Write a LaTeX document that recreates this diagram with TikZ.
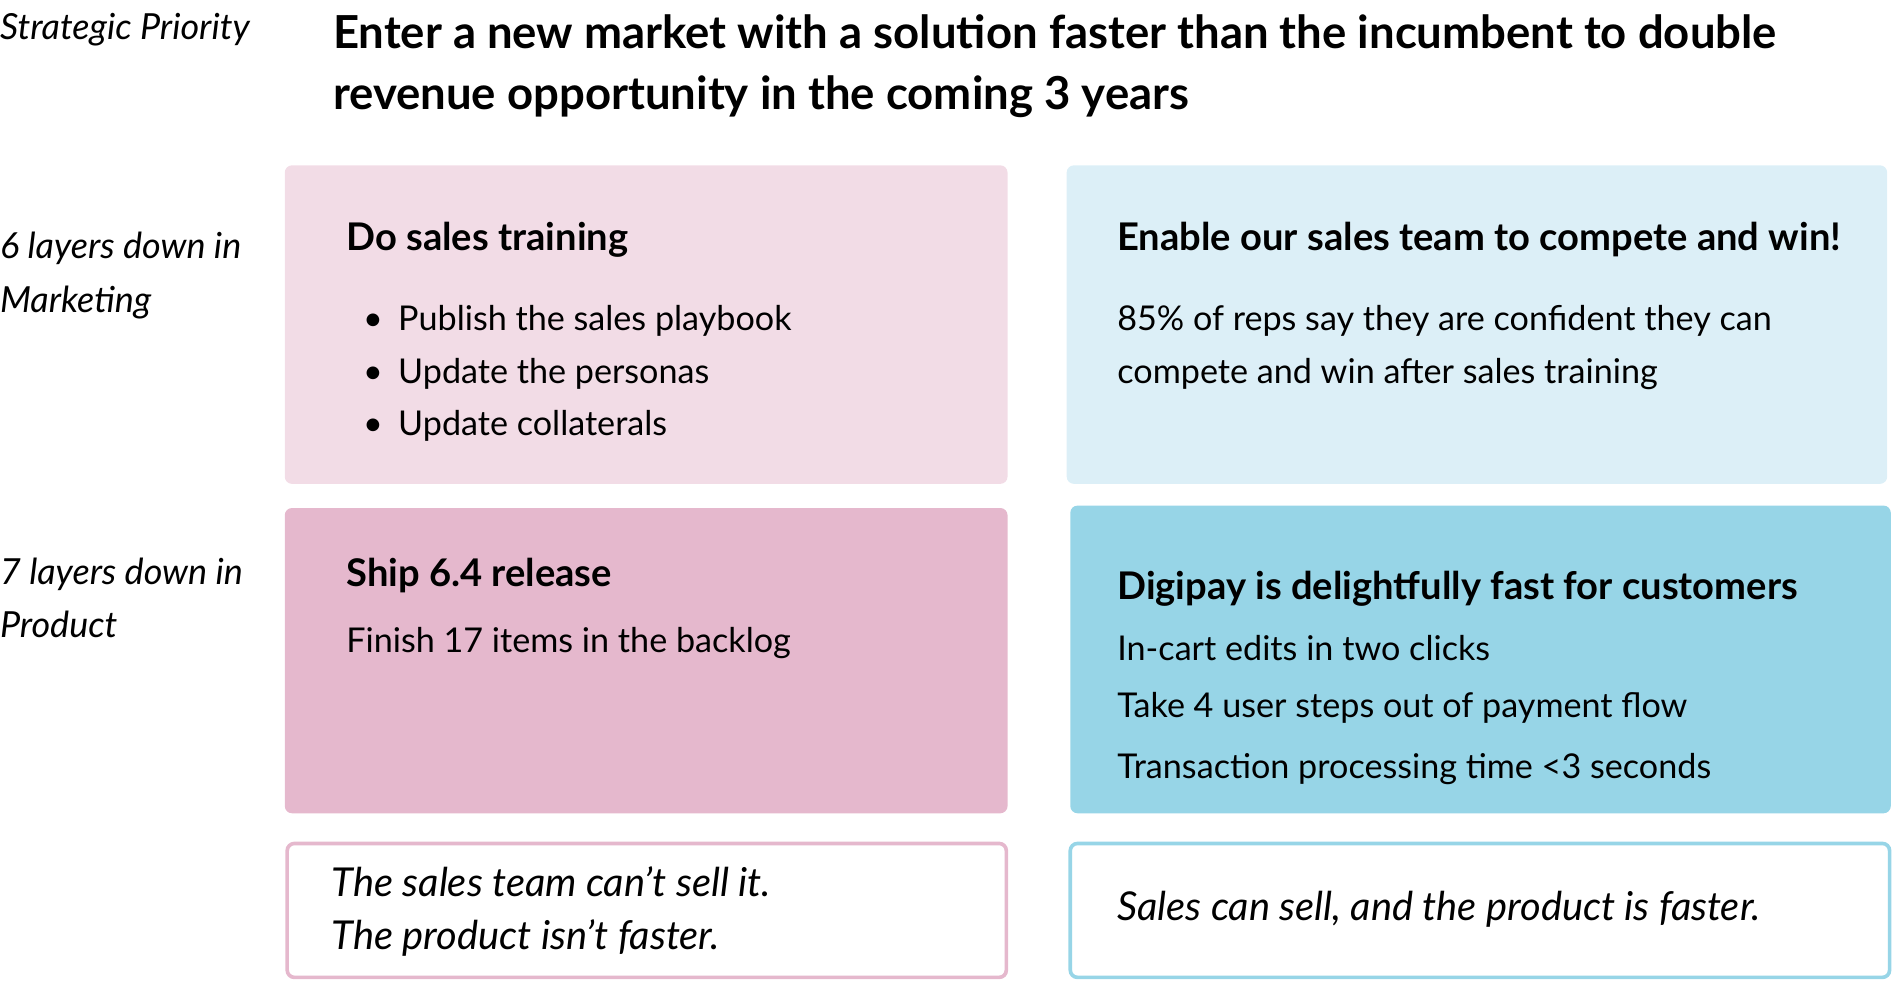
\documentclass[tikz,border=0pt]{standalone}
\usepackage{fontspec}
\setmainfont{Lato}
\definecolor{pinkL}{HTML}{F2DCE6}
\definecolor{pinkD}{HTML}{E5B8CD}
\definecolor{blueL}{HTML}{DCEFF7}
\definecolor{blueD}{HTML}{97D5E7}
\tikzset{
  box/.style={rounded corners=3pt},
  txt/.style={anchor=base west, inner sep=0pt, outer sep=0pt, font=\fontsize{14.15pt}{17pt}\selectfont},
  hdr/.style={txt, font=\fontsize{15.8pt}{18pt}\selectfont\bfseries},
  ttl/.style={txt, font=\fontsize{18.85pt}{22pt}\selectfont\bfseries},
  lbl/.style={txt, font=\fontsize{14.9pt}{17pt}\selectfont\itshape},
  note/.style={txt, font=\fontsize{16.5pt}{19pt}\selectfont\itshape},
}
\begin{document}
\begin{tikzpicture}[x=0.5pt,y=-0.5pt]
\useasboundingbox (0,0) rectangle (1568,832);
% boxes
\fill[pinkL, box] (236,137) rectangle (835,401);
\fill[blueL, box] (884,137) rectangle (1564,401);
\fill[pinkD, box] (236,421) rectangle (835,674);
\fill[blueD, box] (887,419) rectangle (1567,674);
\draw[pinkD, line width=1.5pt, box, fill=white] (238,699) rectangle (834,810);
\draw[blueD, line width=1.5pt, box, fill=white] (887,699) rectangle (1566,810);
% left labels
\node[lbl] (sp) at (0,33) {Strategic Priority};
\node[lbl] (l6a) at (0,214) {6 layers down in};
\node[lbl] (l6b) at (0,259) {Marketing};
\node[lbl] (l7a) at (0,484) {7 layers down in};
\node[lbl] (l7b) at (0,528) {Product};
% title
\node[ttl] (t1) at (276,40) {Enter a new market with a solution faster than the incumbent to double};
\node[ttl] (t2) at (276,91) {revenue opportunity in the coming 3 years};
% box A
\node[hdr] (ah) at (287,208) {Do sales training};
\node[txt] (ab1) at (301,274) {•};
\node[txt] (a1) at (330,274) {Publish the sales playbook};
\node[txt] (ab2) at (301,318) {•};
\node[txt] (a2) at (330,318) {Update the personas};
\node[txt] (ab3) at (301,361) {•};
\node[txt] (a3) at (330,361) {Update collaterals};
% box B
\node[hdr] (bh) at (926,208) {Enable our sales team to compete and win!};
\node[txt] (b1) at (926,274) {85\% of reps say they are confident they can};
\node[txt] (b2) at (926,318) {compete and win after sales training};
% box C
\node[hdr] (ch) at (287,486) {Ship 6.4 release};
\node[txt] (c1) at (287,541) {Finish 17 items in the backlog};
% box D
\node[hdr] (dh) at (926,497) {Digipay is delightfully fast for customers};
\node[txt] (d1) at (926,547) {In-cart edits in two clicks};
\node[txt] (d2) at (926,595) {Take 4 user steps out of payment flow};
\node[txt] (d3) at (926,645) {Transaction processing time <3 seconds};
% box E, F
\node[note] (e1) at (275,743) {The sales team can’t sell it.};
\node[note] (e2) at (275,787) {The product isn’t faster.};
\node[note] (f1) at (926,763) {Sales can sell, and the product is faster.};
\end{tikzpicture}
\end{document}
